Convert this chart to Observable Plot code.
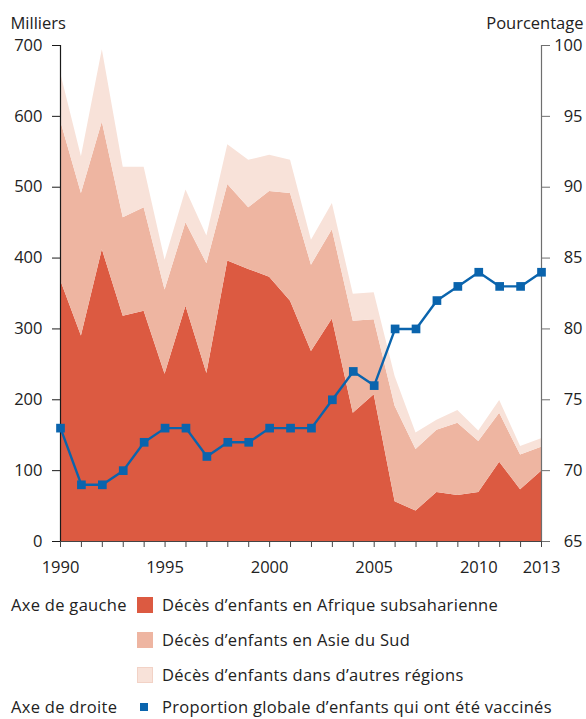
<!DOCTYPE html>
<html><head><meta charset="utf-8">
<script src="https://cdn.jsdelivr.net/npm/d3@7"></script>
<script src="https://cdn.jsdelivr.net/npm/@observablehq/plot@0.6"></script>
<style>
body{margin:0;background:#fff;font-family:"Open Sans",sans-serif;color:#222}
#chart svg{display:block}
#legend{position:relative;width:586px;height:134px;font-size:16.5px;letter-spacing:0.3px}
#legend .t{position:absolute;line-height:16px;white-space:nowrap}
#legend .sw{position:absolute;box-sizing:border-box}
</style></head><body>
<div id="chart"></div>
<div id="legend"></div>
<script>
const years = [1990,1991,1992,1993,1994,1995,1996,1997,1998,1999,2000,2001,2002,2003,2004,2005,2006,2007,2008,2009,2010,2011,2012,2013];
const labelYears = [1990,1995,2000,2005,2010,2013];
const regions = ["Décès d’enfants en Afrique subsaharienne","Décès d’enfants en Asie du Sud","Décès d’enfants dans d’autres régions"];
// thousands of child deaths
const africa    = [369,290,412,318,325,236,332,237,396,384,373,339,268,314,181,207,56,43,69,65,69,112,73,99];
const southAsia = [225,201,180,139,146,119,118,155,108,87,121,152,122,126,130,106,135,87,88,102,72,69,49,34];
const others    = [68,52,102,71,57,42,46,39,56,67,51,47,35,37,38,38,42,23,14,18,15,18,12,12];
// global vaccination coverage, %
const vaccinated = [73,69,69,70,72,73,73,71,72,72,73,73,73,75,77,76,80,80,82,83,84,83,83,84];
const leftTicks = [0,100,200,300,400,500,600,700];
const rightTicks = [65,70,75,80,85,90,95,100];
const colors = ["#dc5a41","#eeb5a1","#f8e2d9"];
const blue = "#0a64ad";

const toLeft = p => (p - 65) * 20;   // 65–100 % onto 0–700
const toPct = v => v / 20 + 65;

const series = [africa, southAsia, others];
const rows = [];
years.forEach((yr, i) => series.forEach((s, k) => rows.push({year: yr, region: regions[k], value: s[i]})));
const vac = years.map((yr, i) => ({year: yr, pct: vaccinated[i]}));

const plot = Plot.plot({
  width: 586, height: 585,
  marginLeft: 60, marginRight: 45, marginTop: 45, marginBottom: 44,
  style: {fontFamily: "Open Sans", fontSize: "16.5px", color: "#222", background: "#fff", overflow: "visible"},
  x: {domain: [1990, 2013], label: null},
  y: {domain: [0, 700], label: null},
  color: {domain: regions, range: colors},
  marks: [
    Plot.areaY(rows, {x: "year", y: "value", fill: "region", order: regions}),
    Plot.ruleX([1990], {stroke: "#1a1a1a", strokeWidth: 1.2}),
    Plot.ruleX([2013], {stroke: "#6f6f6f", strokeWidth: 1.2}),
    Plot.ruleY([0], {stroke: "#444", strokeWidth: 1.2}),
    Plot.axisY({anchor: "left", ticks: leftTicks, tickSize: 8, tickPadding: 10, stroke: "#1a1a1a", label: null}),
    Plot.axisY({anchor: "right", ticks: rightTicks.map(toLeft), tickFormat: v => String(toPct(v)), tickSize: 8, tickPadding: 33, textAnchor: "end", stroke: "#6f6f6f", label: null}),
    Plot.axisX({ticks: years, tickFormat: d => labelYears.includes(d) ? String(d) : "", tickSize: 6, tickPadding: 14, stroke: "#444", label: null}),
    Plot.line(vac, {x: "year", y: d => toLeft(d.pct), stroke: blue, strokeWidth: 2.4}),
    Plot.dot(vac, {x: "year", y: d => toLeft(d.pct), symbol: "square", r: 4.9, fill: blue, stroke: "none"}),
    Plot.text(["Milliers"], {text: d => d, frameAnchor: "top-left", dx: -50, dy: -28, textAnchor: "start", fill: "#222", fontSize: 16.5}),
    Plot.text(["Pourcentage"], {text: d => d, frameAnchor: "top-right", dx: 42, dy: -28, textAnchor: "end", fill: "#222", fontSize: 16.5})
  ]
});
document.getElementById("chart").appendChild(plot);

// legend
const lg = document.getElementById("legend");
const top0 = 585;
function addText(txt, x, cy){const d=document.createElement("div");d.className="t";d.textContent=txt;d.style.left=x+"px";d.style.top=(cy-top0-8)+"px";lg.appendChild(d);}
function addSw(x, cy, size, fill, border){const d=document.createElement("div");d.className="sw";d.style.left=x+"px";d.style.top=(cy-top0-size/2)+"px";d.style.width=size+"px";d.style.height=size+"px";d.style.background=fill;if(border)d.style.border="1px solid "+border;lg.appendChild(d);}
const rowsY = [605, 640, 675, 707];
addText("Axe de gauche", 11, rowsY[0]);
addText("Axe de droite", 11, rowsY[3]);
regions.forEach((r, k) => {
  addSw(137, rowsY[k], 16, colors[k], k === 2 ? "#f2d2c6" : null);
  addText(r, 162, rowsY[k]);
});
addSw(140, rowsY[3], 8, blue, null);
addText("Proportion globale d’enfants qui ont été vaccinés", 162, rowsY[3]);
</script>
</body></html>
